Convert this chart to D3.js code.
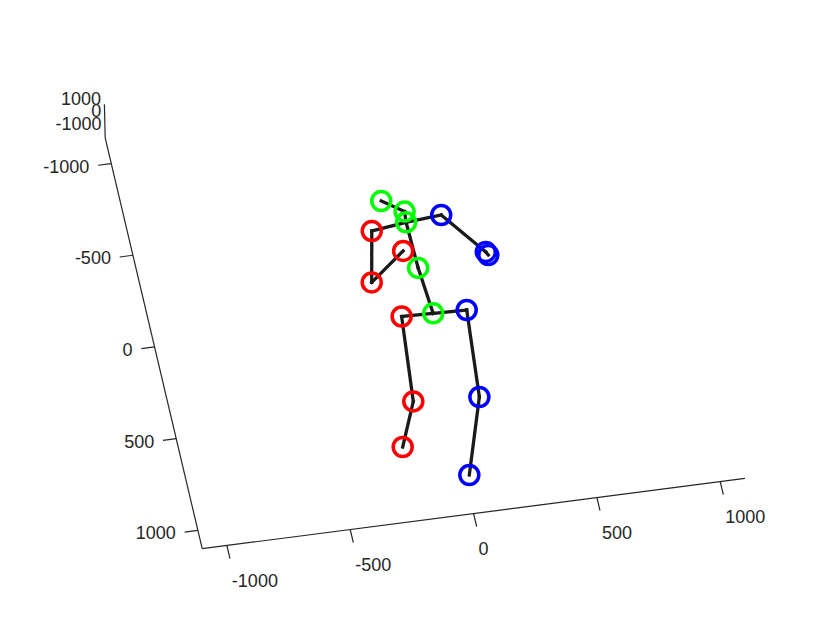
<!DOCTYPE html>
<html>
<head>
<meta charset="utf-8">
<script src="https://cdn.jsdelivr.net/npm/d3@7"></script>
<style>
  body { margin: 0; background: #fff; }
  text { font-family: "Liberation Sans", Arial, sans-serif; font-size: 18px; fill: #262626; }
</style>
</head>
<body>
<script>
// joint order: pelvis, rhip, rknee, rankle, lhip, lknee, lankle, spine, thorax, neck, head,
// lshoulder, lelbow, lwrist, rshoulder, relbow, rwrist
var jointX = [13, -114, -147, -231, 148, 117, 5, -4, -9, -5, -87, 136, 277, 284, -152, -200, -47];
var jointY = [103, 98, 555, 789, 108, 577, 983, -148, -397, -455, -527, -412, -186, -168, -375, -103, -248];
var jointColor = ["#00ff00", "#ff0000", "#ff0000", "#ff0000", "#0000ff", "#0000ff", "#0000ff",
                  "#00ff00", "#00ff00", "#00ff00", "#00ff00",
                  "#0000ff", "#0000ff", "#0000ff", "#ff0000", "#ff0000", "#ff0000"];
var bones = [[0,1],[1,2],[2,3],[0,4],[4,5],[5,6],[0,7],[7,8],[8,9],[9,10],
             [8,11],[11,12],[12,13],[8,14],[14,15],[15,16]];

var xTicks = [-1000, -500, 0, 500, 1000];
var yTicks = [-1000, -500, 0, 500, 1000];
var zTicks = [-1000, 0, 1000];

var w = 822;
var h = 617;

// box corner (xmin, ymax, zmin) on screen and the three edge vectors
var corner = [202.2, 548.7];
var vx = [542.7, -70.4];
var vy = [-97.0, -410.8];
var vz = [-0.8, -33.75];

var xScale = d3.scaleLinear().domain([-1100, 1100]).range([0, 1]);
var yScale = d3.scaleLinear().domain([1100, -1140]).range([0, 1]);
var zScale = d3.scaleLinear().domain([-1350, 1350]).range([0, 1]);

function project(x, y, z) {
  var a = xScale(x), b = yScale(y), c = zScale(z);
  return [corner[0] + a * vx[0] + b * vy[0] + c * vz[0],
          corner[1] + a * vx[1] + b * vy[1] + c * vz[1]];
}

var svg = d3.select("body")
            .append("svg")
            .attr("width", w)
            .attr("height", h);

var xd = xScale.domain(), yd = yScale.domain(), zd = zScale.domain();
var axisLines = [
  [project(xd[0], yd[0], zd[0]), project(xd[1], yd[0], zd[0])],
  [project(xd[0], yd[0], zd[0]), project(xd[0], yd[1], zd[0])],
  [project(xd[0], yd[1], zd[0]), project(xd[0], yd[1], zd[1])]
];

svg.selectAll("line.axis")
   .data(axisLines)
   .enter()
   .append("line")
   .attr("class", "axis")
   .attr("x1", function(d){ return d[0][0]; })
   .attr("y1", function(d){ return d[0][1]; })
   .attr("x2", function(d){ return d[1][0]; })
   .attr("y2", function(d){ return d[1][1]; })
   .attr("stroke", "#262626")
   .attr("stroke-width", 1.2);

// x ticks (point along y direction)
var xt = svg.selectAll("g.xtick")
            .data(xTicks)
            .enter()
            .append("g")
            .attr("class", "xtick");
xt.append("line")
  .attr("x1", function(d){ return project(d, yd[0], zd[0])[0]; })
  .attr("y1", function(d){ return project(d, yd[0], zd[0])[1]; })
  .attr("x2", function(d){ return project(d, yd[0], zd[0])[0] + 3.1; })
  .attr("y2", function(d){ return project(d, yd[0], zd[0])[1] + 13.1; })
  .attr("stroke", "#262626")
  .attr("stroke-width", 1.2);
xt.append("text")
  .attr("x", function(d){ return project(d, yd[0], zd[0])[0] + 5; })
  .attr("y", function(d){ return project(d, yd[0], zd[0])[1] + 35; })
  .attr("dominant-baseline", "central")
  .attr("text-anchor", "start")
  .text(function(d){ return d; });

// y ticks (point left)
var yt = svg.selectAll("g.ytick")
            .data(yTicks)
            .enter()
            .append("g")
            .attr("class", "ytick");
yt.append("line")
  .attr("x1", function(d){ return project(xd[0], d, zd[0])[0]; })
  .attr("y1", function(d){ return project(xd[0], d, zd[0])[1]; })
  .attr("x2", function(d){ return project(xd[0], d, zd[0])[0] - 13.2; })
  .attr("y2", function(d){ return project(xd[0], d, zd[0])[1] + 1.7; })
  .attr("stroke", "#262626")
  .attr("stroke-width", 1.2);
yt.append("text")
  .attr("x", function(d){ return project(xd[0], d, zd[0])[0] - 22; })
  .attr("y", function(d){ return project(xd[0], d, zd[0])[1] + 3; })
  .attr("dominant-baseline", "central")
  .attr("text-anchor", "end")
  .text(function(d){ return d; });

// z labels (squeezed together, as in the original view)
svg.selectAll("text.ztick")
   .data(zTicks)
   .enter()
   .append("text")
   .attr("class", "ztick")
   .attr("x", function(d){ return project(xd[0], yd[1], d)[0] - 3.5; })
   .attr("y", function(d){ return project(xd[0], yd[1], d)[1] - 10; })
   .attr("dominant-baseline", "central")
   .attr("text-anchor", "end")
   .text(function(d){ return d; });

// skeleton
var pts = jointX.map(function(x, i){ return project(x, jointY[i], 0); });

svg.selectAll("line.bone")
   .data(bones)
   .enter()
   .append("line")
   .attr("class", "bone")
   .attr("x1", function(d){ return pts[d[0]][0]; })
   .attr("y1", function(d){ return pts[d[0]][1]; })
   .attr("x2", function(d){ return pts[d[1]][0]; })
   .attr("y2", function(d){ return pts[d[1]][1]; })
   .attr("stroke", "#1a1a1a")
   .attr("stroke-width", 3.3)
   .attr("stroke-linecap", "square");

svg.selectAll("circle")
   .data(pts)
   .enter()
   .append("circle")
   .attr("cx", function(d){ return d[0]; })
   .attr("cy", function(d){ return d[1]; })
   .attr("r", 9.5)
   .attr("fill", "none")
   .attr("stroke", function(d, i){ return jointColor[i]; })
   .attr("stroke-width", 3.5);
</script>
</body>
</html>
